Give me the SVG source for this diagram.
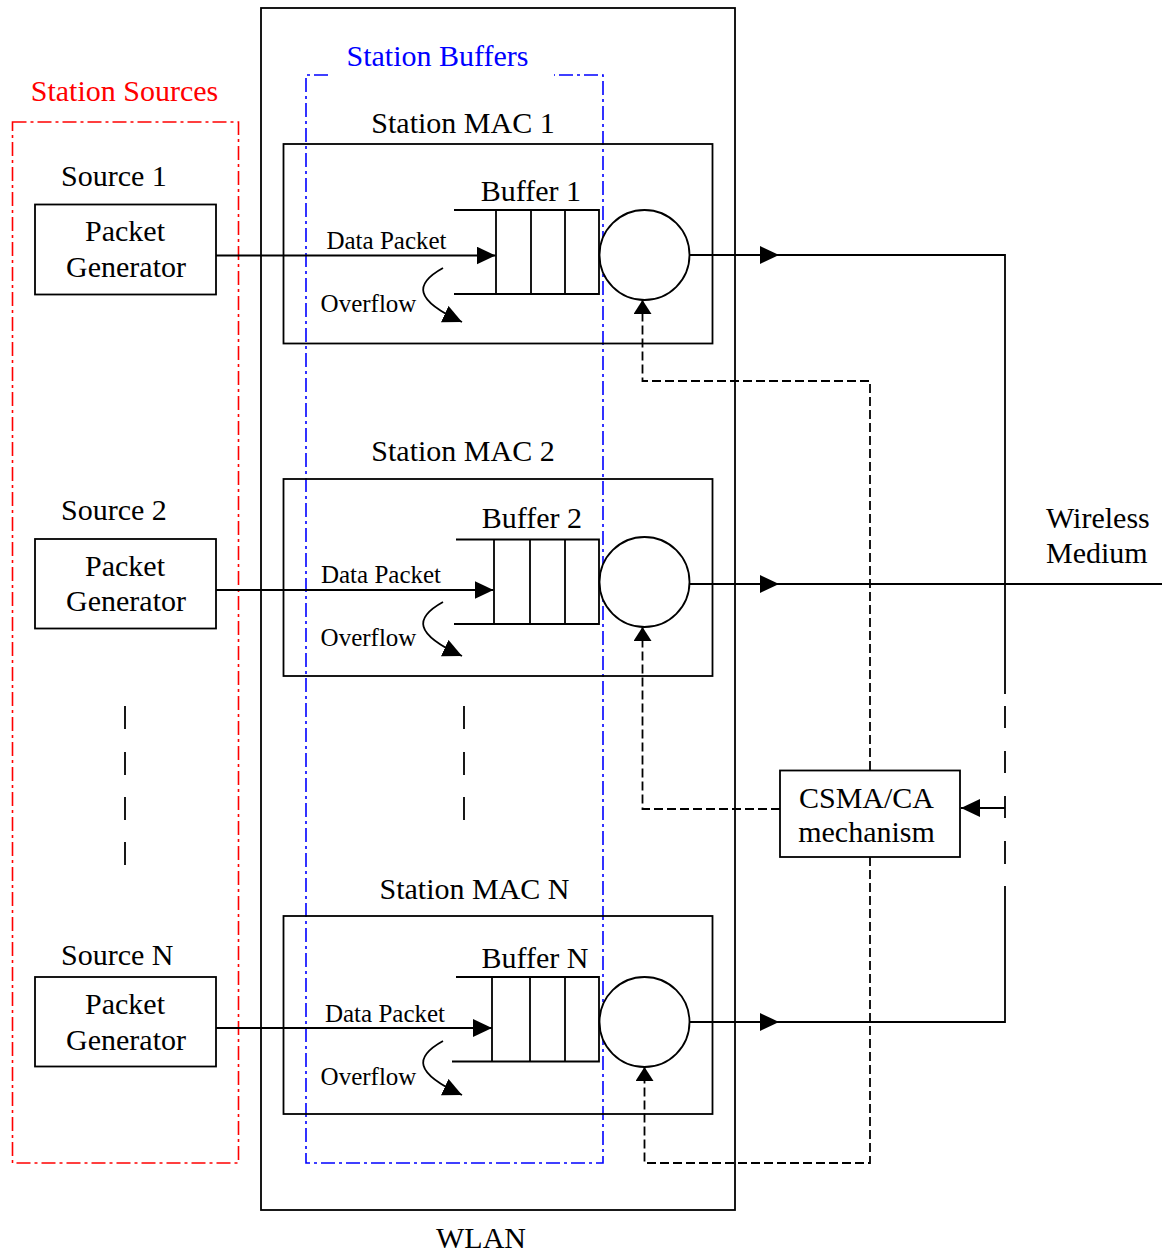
<svg xmlns="http://www.w3.org/2000/svg" width="1162" height="1255" viewBox="0 0 1162 1255">
<defs>
<style>
text{font-family:"Liberation Serif","Times New Roman",serif;font-size:30px;fill:#000}
.sm{font-size:25px}
.mid{text-anchor:middle}
.box{fill:none;stroke:#000;stroke-width:1.8}
.ln{fill:none;stroke:#000;stroke-width:1.8}
.dsh{fill:none;stroke:#000;stroke-width:1.8;stroke-dasharray:9 4}
.red{fill:none;stroke:#f00;stroke-width:1.6;stroke-dasharray:14 4 3 4}
.blue{fill:none;stroke:#00f;stroke-width:1.6;stroke-dasharray:14 4 3 4}
.circ{fill:#fff;stroke:#000;stroke-width:1.8}
</style>
<marker id="arr" markerUnits="userSpaceOnUse" markerWidth="20" markerHeight="20" refX="19" refY="9" orient="auto">
<path d="M0,0 L19,9 L0,18 z" fill="#000"/>
</marker>
<marker id="arrS" markerUnits="userSpaceOnUse" markerWidth="20" markerHeight="20" refX="14" refY="9" orient="auto">
<path d="M0,0 L14,9 L0,18 z" fill="#000"/>
</marker>
</defs>

<g id="wlan">
<rect class="box" x="261" y="8" width="474" height="1202"/>
<text class="mid" x="481" y="1248">WLAN</text>
</g>

<g id="station-sources">
<rect class="red" x="12.5" y="122" width="226" height="1041"/>
<text class="mid" x="124.5" y="101" style="fill:#f00">Station Sources</text>
</g>

<g id="station-buffers">
<path class="blue" d="M328,75 L306,75 L306,1163 L603,1163 L603,75 L554,75"/>
<text class="mid" x="437.5" y="66" style="fill:#00f">Station Buffers</text>
</g>

<g id="source1">
<text x="61" y="186">Source 1</text>
<rect class="box" x="35" y="204.5" width="181" height="90"/>
<text class="mid" x="125" y="241">Packet</text>
<text class="mid" x="126" y="277">Generator</text>
</g>
<g id="source2">
<text x="61" y="520">Source 2</text>
<rect class="box" x="35" y="539" width="181" height="89.5"/>
<text class="mid" x="125" y="576">Packet</text>
<text class="mid" x="126" y="611">Generator</text>
</g>
<g id="sourceN">
<text x="61" y="965">Source N</text>
<rect class="box" x="35" y="977" width="181" height="89.5"/>
<text class="mid" x="125" y="1014">Packet</text>
<text class="mid" x="126" y="1050">Generator</text>
</g>

<g id="mac1">
<text class="mid" x="463" y="133">Station MAC 1</text>
<rect class="box" x="283.5" y="144" width="429" height="199.5"/>
<text class="mid" x="531" y="201">Buffer 1</text>
<path class="ln" d="M454,210 L599,210 L599,294 L454,294 M496,210 L496,294 M531,210 L531,294 M565,210 L565,294"/>
<circle class="circ" cx="644.5" cy="255" r="45"/>
<text class="sm mid" x="386.5" y="249">Data Packet</text>
<text class="sm mid" x="368.5" y="312">Overflow</text>
</g>
<g id="mac2">
<text class="mid" x="463" y="461">Station MAC 2</text>
<rect class="box" x="283.5" y="479" width="429" height="197"/>
<text class="mid" x="532" y="528">Buffer 2</text>
<path class="ln" d="M456,539.5 L599,539.5 L599,624 L454,624 M494,539.5 L494,624 M530,539.5 L530,624 M565,539.5 L565,624"/>
<circle class="circ" cx="644.5" cy="582" r="45"/>
<text class="sm mid" x="381" y="583">Data Packet</text>
<text class="sm mid" x="368.5" y="646">Overflow</text>
</g>
<g id="macN">
<text class="mid" x="474.5" y="899">Station MAC N</text>
<rect class="box" x="283.5" y="916" width="429" height="198"/>
<text class="mid" x="535" y="968">Buffer N</text>
<path class="ln" d="M456,977 L599,977 L599,1061.5 L452,1061.5 M492,977 L492,1061.5 M530,977 L530,1061.5 M565,977 L565,1061.5"/>
<circle class="circ" cx="644.5" cy="1022" r="45"/>
<text class="sm mid" x="385" y="1022">Data Packet</text>
<text class="sm mid" x="368.5" y="1085">Overflow</text>
</g>

<g id="csma">
<rect class="box" x="780" y="770.5" width="180" height="86.5"/>
<text class="mid" x="866.5" y="808">CSMA/CA</text>
<text class="mid" x="866.5" y="842">mechanism</text>
</g>

<g id="wireless-medium">
<text x="1046" y="528">Wireless</text>
<text x="1046" y="563">Medium</text>
</g>

<g id="ellipsis">
<path class="ln" d="M125,706 L125,729 M125,752 L125,775 M125,797 L125,820 M125,842 L125,865"/>
<path class="ln" d="M464,706 L464,729 M464,752 L464,775 M464,797 L464,820"/>
</g>

<g id="connectors">
<path class="ln" d="M216,255.5 L495.5,255.5" marker-end="url(#arr)"/>
<path class="ln" d="M216,590 L493.5,590" marker-end="url(#arr)"/>
<path class="ln" d="M216,1028 L492,1028" marker-end="url(#arr)"/>
<path class="ln" d="M443,268 C414,284 414,300 462,322" marker-end="url(#arr)"/>
<path class="ln" d="M443,602 C414,618 414,634 462,656" marker-end="url(#arr)"/>
<path class="ln" d="M443,1041 C414,1057 414,1073 462,1095" marker-end="url(#arr)"/>
<path class="ln" d="M689.5,255 L779,255" marker-end="url(#arr)"/>
<path class="ln" d="M779,255 L1005,255 L1005,694"/>
<path class="ln" d="M689.5,584 L779,584" marker-end="url(#arr)"/>
<path class="ln" d="M779,584 L1162,584"/>
<path class="ln" d="M689.5,1022 L779,1022" marker-end="url(#arr)"/>
<path class="ln" d="M779,1022 L1005,1022 L1005,886"/>
<path class="ln" d="M1005,706 L1005,728 M1005,751 L1005,773 M1005,796 L1005,818 M1005,841 L1005,864"/>
<path class="ln" d="M1005,808 L961,808" marker-end="url(#arr)"/>
<path class="dsh" d="M870,770 L870,381 L642.5,381 L642.5,300" marker-end="url(#arrS)"/>
<path class="dsh" d="M780,809 L642.5,809 L642.5,627" marker-end="url(#arrS)"/>
<path class="dsh" d="M870,857 L870,1163 L644.5,1163 L644.5,1067" marker-end="url(#arrS)"/>
</g>
</svg>
